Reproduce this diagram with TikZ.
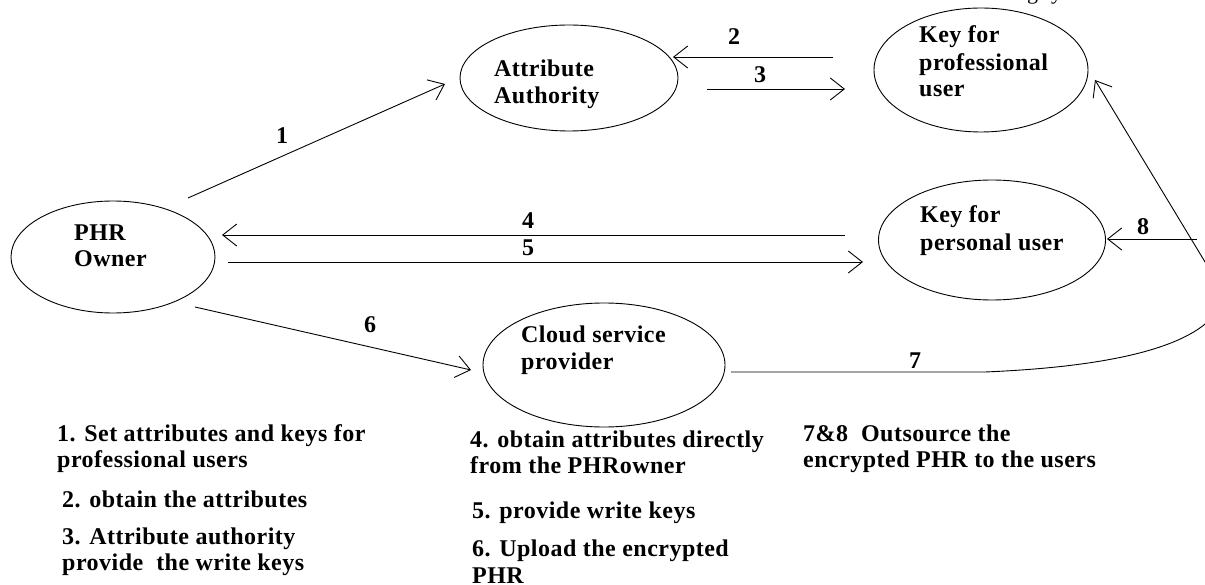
\documentclass[tikz,border=0pt]{standalone}
\usepackage{fontspec}
\setmainfont{Liberation Serif}
\usetikzlibrary{arrows.meta,shapes.geometric}
\newfontfamily\bfser[LetterSpace=2]{Liberation Serif Bold}
\begin{document}
\begin{tikzpicture}[x=1pt,y=-1pt,
  ell/.style={draw,ellipse,line width=0.9pt,inner sep=0pt},
  txt/.style={anchor=base west,inner sep=0pt,font=\fontsize{24}{28}\bfser},
  num/.style={anchor=base,inner sep=0pt,font=\fontsize{24}{28}\bfser},
  arr/.style={line width=0.9pt,-{Straight Barb[length=14pt,width=22pt,line width=0.9pt]}}]
\useasboundingbox (0,0) rectangle (1205,585);
\clip (0,0) rectangle (1205,585);
% cut-off fragment at top
\node[anchor=base west,inner sep=0pt,font=\fontsize{22}{26}\selectfont] (frag) at (1027,0) {g\hspace{13pt}y};
% ellipses
\node[ell,minimum width=204pt,minimum height=112pt] (phr) at (113,257) {};
\node[ell,minimum width=218pt,minimum height=106pt] (attr) at (569,78) {};
\node[ell,minimum width=214pt,minimum height=124pt] (kpro) at (981,70) {};
\node[ell,minimum width=227pt,minimum height=120pt] (kper) at (992,240) {};
\node[ell,minimum width=242pt,minimum height=124pt] (cloud) at (604,365) {};
% texts in ellipses
\node[txt] (phr1) at (74,241) {PHR};
\node[txt] (phr2) at (74,267) {Owner};
\node[txt] (attr1) at (494,77) {Attribute};
\node[txt] (attr2) at (494,104) {Authority};
\node[txt] (kpro1) at (919,43) {Key for};
\node[txt] (kpro2) at (919,71) {professional};
\node[txt] (kpro3) at (919,97) {user};
\node[txt] (kper1) at (920,223) {Key for};
\node[txt] (kper2) at (920,251) {personal user};
\node[txt] (cloud1) at (521,343) {Cloud service};
\node[txt] (cloud2) at (521,369) {provider};
% connector end points
\coordinate (a1s) at (188,198); \coordinate (a1e) at (445,84);
\coordinate (a2s) at (833,57);  \coordinate (a2e) at (673,57);
\coordinate (a3s) at (707,89);  \coordinate (a3e) at (845,89);
\coordinate (a4s) at (845,235); \coordinate (a4e) at (222,235);
\coordinate (a5s) at (228,262); \coordinate (a5e) at (863,262);
\coordinate (a6s) at (195,307); \coordinate (a6e) at (471,370);
\coordinate (a7s) at (731,372); \coordinate (a7m) at (985,372);
\coordinate (a7c) at (1225,295); \coordinate (a7e) at (1095,80);
\coordinate (a8s) at (1197,239); \coordinate (a8e) at (1107,239);
% connectors
\draw[arr] (a1s) -- (a1e);
\draw[arr] (a2s) -- (a2e);
\draw[arr] (a3s) -- (a3e);
\draw[arr] (a4s) -- (a4e);
\draw[arr] (a5s) -- (a5e);
\draw[arr] (a6s) -- (a6e);
\draw[arr] (a7s) -- (a7m) .. controls (1150,365) and (1215,335) .. (a7c) -- (a7e);
\draw[arr] (a8s) -- (a8e);
% connector labels
\node[num] (l1) at (282,144) {1};
\node[num] (l2) at (734,45) {2};
\node[num] (l3) at (760,83) {3};
\node[num] (l4) at (528,229) {4};
\node[num] (l5) at (528,256) {5};
\node[num] (l6) at (370,333) {6};
\node[num] (l7) at (915,368) {7};
\node[num] (l8) at (1143,235) {8};
% legend
\node[txt] (t1a) at (57,441) {1. Set attributes and keys for};
\node[txt] (t1b) at (57,467) {professional users};
\node[txt] (t2) at (62,507) {2. obtain the attributes};
\node[txt] (t3a) at (62,544) {3. Attribute authority};
\node[txt] (t3b) at (62,570) {provide\ \ the write keys};
\node[txt] (t4a) at (470,447) {4. obtain attributes directly};
\node[txt] (t4b) at (470,473) {from the PHRowner};
\node[txt] (t5) at (472,518) {5. provide write keys};
\node[txt] (t6a) at (472,556) {6. Upload the encrypted};
\node[txt] (t6b) at (472,583) {PHR};
\node[txt] (t7a) at (803,441) {7\&8\ \ Outsource the};
\node[txt] (t7b) at (803,467) {encrypted PHR to the users};
\end{tikzpicture}
\end{document}
